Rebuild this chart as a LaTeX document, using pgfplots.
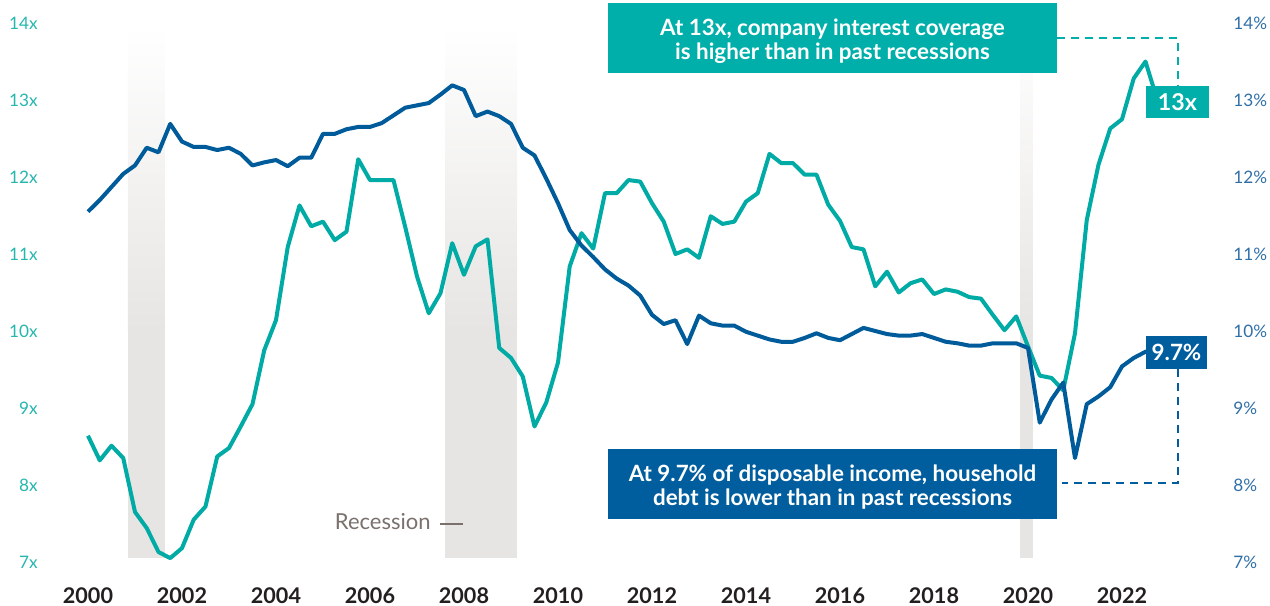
\documentclass[border=0pt]{standalone}
\usepackage{pgfplots}
\pgfplotsset{compat=1.18}
\usepackage{pgfplotstable}
\usepackage{fontspec}
\setmainfont{Lato}

\definecolor{covline}{HTML}{00AAA5}
\definecolor{debtline}{HTML}{005B9A}
\definecolor{covbox}{HTML}{00AFA9}
\definecolor{debtbox}{HTML}{005E9E}
\definecolor{lefttick}{HTML}{25B6AE}
\definecolor{righttick}{HTML}{2F6FA7}
\definecolor{yeartick}{HTML}{231F20}
\definecolor{recgray}{HTML}{E7E5E3}
\definecolor{rectext}{HTML}{7A716D}

% quarterly: interest coverage (x) and household debt service (% of disposable income)
\pgfplotstableread{
t       cov    debt
2000.00  8.64  11.55
2000.25  8.32  11.70
2000.50  8.51  11.87
2000.75  8.35  12.04
2001.00  7.65  12.15
2001.25  7.44  12.38
2001.50  7.13  12.32
2001.75  7.05  12.69
2002.00  7.18  12.46
2002.25  7.55  12.39
2002.50  7.72  12.39
2002.75  8.37  12.35
2003.00  8.48  12.38
2003.25  8.76  12.30
2003.50  9.05  12.15
2003.75  9.75  12.19
2004.00 10.14  12.22
2004.25 11.09  12.14
2004.50 11.63  12.25
2004.75 11.36  12.25
2005.00 11.42  12.56
2005.25 11.18  12.56
2005.50 11.29  12.62
2005.75 12.23  12.65
2006.00 11.96  12.65
2006.25 11.96  12.70
2006.50 11.96  12.80
2006.75 11.35  12.90
2007.00 10.71  12.93
2007.25 10.23  12.96
2007.50 10.49  13.07
2007.75 11.14  13.19
2008.00 10.73  13.13
2008.25 11.10  12.79
2008.50 11.19  12.85
2008.75  9.78  12.79
2009.00  9.65  12.69
2009.25  9.41  12.38
2009.50  8.76  12.28
2009.75  9.07  11.98
2010.00  9.59  11.66
2010.25 10.84  11.31
2010.50 11.27  11.11
2010.75 11.07  10.96
2011.00 11.79  10.80
2011.25 11.79  10.68
2011.50 11.96  10.59
2011.75 11.94  10.46
2012.00 11.66  10.21
2012.25 11.42  10.09
2012.50 11.00  10.14
2012.75 11.06   9.83
2013.00 10.95  10.20
2013.25 11.49  10.10
2013.50 11.39  10.07
2013.75 11.42  10.07
2014.00 11.68   9.99
2014.25 11.79   9.94
2014.50 12.30   9.89
2014.75 12.18   9.86
2015.00 12.18   9.86
2015.25 12.03   9.91
2015.50 12.03   9.97
2015.75 11.64   9.91
2016.00 11.43   9.88
2016.25 11.09   9.96
2016.50 11.06  10.04
2016.75 10.58  10.00
2017.00 10.77   9.96
2017.25 10.50   9.94
2017.50 10.62   9.94
2017.75 10.67   9.96
2018.00 10.48   9.91
2018.25 10.54   9.86
2018.50 10.51   9.84
2018.75 10.44   9.81
2019.00 10.42   9.81
2019.25 10.21   9.84
2019.50 10.01   9.84
2019.75 10.19   9.84
2020.00  9.80   9.78
2020.25  9.42   8.81
2020.50  9.39   9.11
2020.75  9.23   9.33
2021.00  9.97   8.35
2021.25 11.44   9.05
2021.50 12.16   9.15
2021.75 12.63   9.27
2022.00 12.75   9.54
2022.25 13.28   9.65
2022.50 13.50   9.73
2022.75 13.00   9.76
}\data

\pgfplotsset{
  frame/.style={
    scale only axis, width=635pt, height=303pt,
    xmin=1998.128, xmax=2025.149, ymin=6.4286, ymax=14.2987,
    axis line style={draw=none}, tick style={draw=none},
    clip=false,
  },
}

\begin{document}
\begin{tikzpicture}
\begin{axis}[frame, name=ax,
  xtick={2000,2002,...,2022},
  xticklabels={2000,2002,2004,2006,2008,2010,2012,2014,2016,2018,2020,2022},
  xticklabel style={anchor=center, inner sep=0pt, yshift=5pt,
    font=\fontsize{10.8}{12}\selectfont\bfseries, text=yeartick},
  ytick={7,...,14},
  yticklabels={7x,8x,9x,10x,11x,12x,13x,14x},
  yticklabel style={anchor=east, inner sep=0pt, xshift=19pt,
    font=\fontsize{8.6}{10}\selectfont, text=lefttick},
]
% recession bands
\addplot[draw=none, fill=recgray] coordinates {(2000.851,7.052) (2000.851,10) (2001.638,10) (2001.638,7.052)} -- cycle;
\addplot[draw=none, top color=white, bottom color=recgray] coordinates {(2000.851,10) (2000.851,13.948) (2001.638,13.948) (2001.638,10)} -- cycle;
\addplot[draw=none, fill=recgray] coordinates {(2007.596,7.052) (2007.596,10) (2009.128,10) (2009.128,7.052)} -- cycle;
\addplot[draw=none, top color=white, bottom color=recgray] coordinates {(2007.596,10) (2007.596,13.948) (2009.128,13.948) (2009.128,10)} -- cycle;
\addplot[draw=none, fill=recgray] coordinates {(2019.830,7.052) (2019.830,10) (2020.106,10) (2020.106,7.052)} -- cycle;
\addplot[draw=none, top color=white, bottom color=recgray] coordinates {(2019.830,10) (2019.830,13.948) (2020.106,13.948) (2020.106,10)} -- cycle;

\addplot[covline, line width=2pt, line join=round, no marks] table[x=t, y=cov] {\data};
\addplot[debtline, line width=2pt, line join=round, no marks] table[x=t, y=debt] {\data};
\end{axis}

\begin{axis}[frame,
  xtick=\empty,
  ytick={7,...,14},
  yticklabels={7\%,8\%,9\%,10\%,11\%,12\%,13\%,14\%},
  yticklabel pos=right,
  yticklabel style={anchor=west, inner sep=0pt, xshift=-18.5pt,
    font=\fontsize{8.6}{10}\selectfont, text=righttick},
]
\end{axis}

\begin{scope}[x=0.5pt, y=-0.5pt, shift={(ax.north west)}]
  % recession key
  \node[anchor=base east, inner sep=0pt, text=rectext, font=\fontsize{11}{12}\selectfont] at (431,530) {Recession};
  \draw[rectext, line width=0.8pt] (440,524) -- (463,524);
  % coverage callout
  \fill[covbox] (608,3) rectangle (1057,73);
  \node[align=center, text=white, inner sep=0pt, font=\fontsize{11.2}{12}\selectfont\bfseries] at (832.5,41)
    {At 13x, company interest coverage\\is higher than in past recessions};
  \draw[covbox, line width=1pt, dash pattern=on 4pt off 3pt] (1057,38) -- (1178,38) -- (1178,86);
  \fill[covbox] (1146,86) rectangle (1209,118);
  \node[text=white, inner sep=0pt, font=\fontsize{11.6}{12}\selectfont\bfseries] at (1177.5,102) {13x};
  % debt callout
  \fill[debtbox] (608,449) rectangle (1057,519);
  \node[align=center, text=white, inner sep=0pt, font=\fontsize{11.2}{12}\selectfont\bfseries] at (832.5,487)
    {At 9.7\% of disposable income, household\\debt is lower than in past recessions};
  \draw[debtbox, line width=1pt, dash pattern=on 4pt off 3pt] (1178,369) -- (1178,483) -- (1062,483);
  \fill[debtbox] (1146,336) rectangle (1207,369);
  \node[text=white, inner sep=0pt, font=\fontsize{11.2}{12}\selectfont\bfseries] at (1176.5,352.5) {9.7\%};
\end{scope}
\end{tikzpicture}
\end{document}
